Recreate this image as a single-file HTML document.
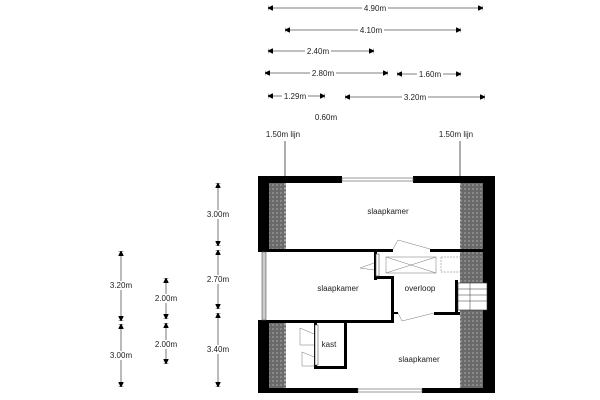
<!DOCTYPE html>
<html><head><style>body{margin:0;background:#fff}svg{display:block}text{font-family:"Liberation Sans",sans-serif;font-size:8px;fill:#222}</style></head><body>
<svg width="600" height="400" viewBox="0 0 600 400">
<defs>
<pattern id="h" width="4" height="4" patternUnits="userSpaceOnUse"><rect width="4" height="4" fill="#6a6a6a"/><rect width="2" height="2" fill="#888"/></pattern>
<marker id="a" viewBox="0 0 6 6" refX="6" refY="3" markerWidth="6" markerHeight="6" orient="auto-start-reverse"><path d="M0,0L6,3L0,6Z M6,0V6" fill="#000" stroke="#000" stroke-width="0.8"/></marker>
</defs>
<g stroke="#555" stroke-width="0.8" marker-start="url(#a)" marker-end="url(#a)">
<line x1="268" y1="8" x2="483" y2="8"/>
<line x1="285" y1="30" x2="461" y2="30"/>
<line x1="268" y1="51" x2="374" y2="51"/>
<line x1="265" y1="73" x2="388" y2="73"/>
<line x1="397" y1="74" x2="461" y2="74"/>
<line x1="268" y1="96" x2="325" y2="96"/>
<line x1="345" y1="97" x2="485" y2="97"/>
<line x1="218" y1="183" x2="218" y2="246"/>
<line x1="218" y1="250" x2="218" y2="309"/>
<line x1="218" y1="313" x2="218" y2="387"/>
<line x1="121" y1="251" x2="121" y2="321"/>
<line x1="121" y1="324" x2="121" y2="387"/>
<line x1="166" y1="278" x2="166" y2="319"/>
<line x1="166" y1="323" x2="166" y2="364"/>
</g>
<g text-anchor="middle">
<rect x="362" y="4" width="26" height="8" fill="#fff"/><text x="375" y="11">4.90m</text>
<rect x="358" y="26" width="26" height="8" fill="#fff"/><text x="371" y="33">4.10m</text>
<rect x="305" y="47" width="26" height="8" fill="#fff"/><text x="318" y="54">2.40m</text>
<rect x="310" y="69" width="26" height="8" fill="#fff"/><text x="323" y="76">2.80m</text>
<rect x="417" y="70" width="26" height="8" fill="#fff"/><text x="430" y="77">1.60m</text>
<rect x="282" y="92" width="26" height="8" fill="#fff"/><text x="295" y="99">1.29m</text>
<rect x="402" y="93" width="26" height="8" fill="#fff"/><text x="415" y="100">3.20m</text>
<text x="326" y="120">0.60m</text>
<text x="283" y="137">1.50m lijn</text>
<text x="456" y="137">1.50m lijn</text>
<rect x="203" y="210" width="30" height="9" fill="#fff"/><text x="218" y="217">3.00m</text>
<rect x="203" y="275" width="30" height="9" fill="#fff"/><text x="218" y="282">2.70m</text>
<rect x="203" y="345" width="30" height="9" fill="#fff"/><text x="218" y="352">3.40m</text>
<rect x="106" y="281" width="30" height="9" fill="#fff"/><text x="121" y="288">3.20m</text>
<rect x="106" y="351" width="30" height="9" fill="#fff"/><text x="121" y="358">3.00m</text>
<rect x="151" y="294" width="30" height="9" fill="#fff"/><text x="166" y="301">2.00m</text>
<rect x="151" y="340" width="30" height="9" fill="#fff"/><text x="166" y="347">2.00m</text>
</g>
<g stroke="#333" stroke-width="0.8"><line x1="285" y1="141" x2="285" y2="177"/><line x1="460" y1="141" x2="460" y2="177"/></g>
<!-- hatch -->
<rect x="269" y="183" width="17" height="66" fill="url(#h)"/>
<rect x="269" y="323" width="17" height="66" fill="url(#h)"/>
<rect x="460" y="183" width="23" height="205" fill="url(#h)"/>
<g stroke="#fff" stroke-dasharray="2,2" stroke-width="0.6"><line x1="285" y1="183" x2="285" y2="249"/><line x1="285" y1="323" x2="285" y2="389"/><line x1="460" y1="183" x2="460" y2="249"/><line x1="460" y1="313" x2="460" y2="389"/></g>
<!-- walls -->
<g fill="#000">
<rect x="258" y="176" width="84" height="7"/><rect x="413" y="176" width="82" height="7"/>
<rect x="258" y="176" width="11" height="76"/><rect x="258" y="320" width="11" height="73"/>
<rect x="483" y="176" width="12" height="217"/>
<rect x="258" y="388" width="100" height="5"/><rect x="422" y="388" width="73" height="5"/>
<rect x="258" y="249" width="135" height="3"/><rect x="430" y="249" width="65" height="3"/>
<rect x="258" y="320" width="135" height="3"/>
<rect x="374" y="252" width="3" height="28"/>
<rect x="374" y="276" width="19" height="3"/>
<rect x="391" y="276" width="3" height="47"/>
<rect x="394" y="312" width="4" height="2"/><rect x="434" y="312" width="26" height="3"/>
<rect x="455" y="280" width="3" height="34"/>
<rect x="314" y="323" width="3" height="46"/><rect x="314" y="366" width="33" height="3"/><rect x="344" y="323" width="3" height="46"/>
</g>
<!-- windows -->
<g fill="#fff" stroke="#555" stroke-width="0.6">
<rect x="342" y="178" width="71" height="3"/><rect x="358" y="389" width="64" height="3"/>
<rect x="262" y="252" width="4" height="68" fill="#ccc"/>
<rect x="376" y="254" width="3" height="22"/>
<rect x="315" y="325" width="3" height="40"/>
</g>
<!-- doors -->
<g fill="none" stroke="#777" stroke-width="0.5">
<path d="M393,249 L398,240 L430,249"/><path d="M374,263 L360,268 L374,270"/>
<path d="M398,313 L402,321 L434,313"/>
<path d="M314,334 L300,328 L300,345 L314,345 M314,357 L302,352 L302,366 L314,366"/>
<rect x="386" y="257" width="50" height="16"/><path d="M386,257L436,273M386,273L436,257"/>
<rect x="441" y="257" width="40" height="15" stroke-dasharray="2,1"/>
</g>
<g fill="#fff" stroke="#333" stroke-width="0.6"><rect x="458" y="283" width="29" height="27"/></g>
<g stroke="#333" stroke-width="0.5"><line x1="458" y1="289" x2="487" y2="289"/><line x1="458" y1="295" x2="487" y2="295"/><line x1="458" y1="301" x2="487" y2="301"/><line x1="470" y1="283" x2="470" y2="310"/></g>
<g text-anchor="middle">
<text x="388" y="214">slaapkamer</text>
<text x="338" y="291">slaapkamer</text>
<text x="420" y="291">overloop</text>
<text x="329" y="347">kast</text>
<text x="419" y="362">slaapkamer</text>
</g>
</svg>
</body></html>
